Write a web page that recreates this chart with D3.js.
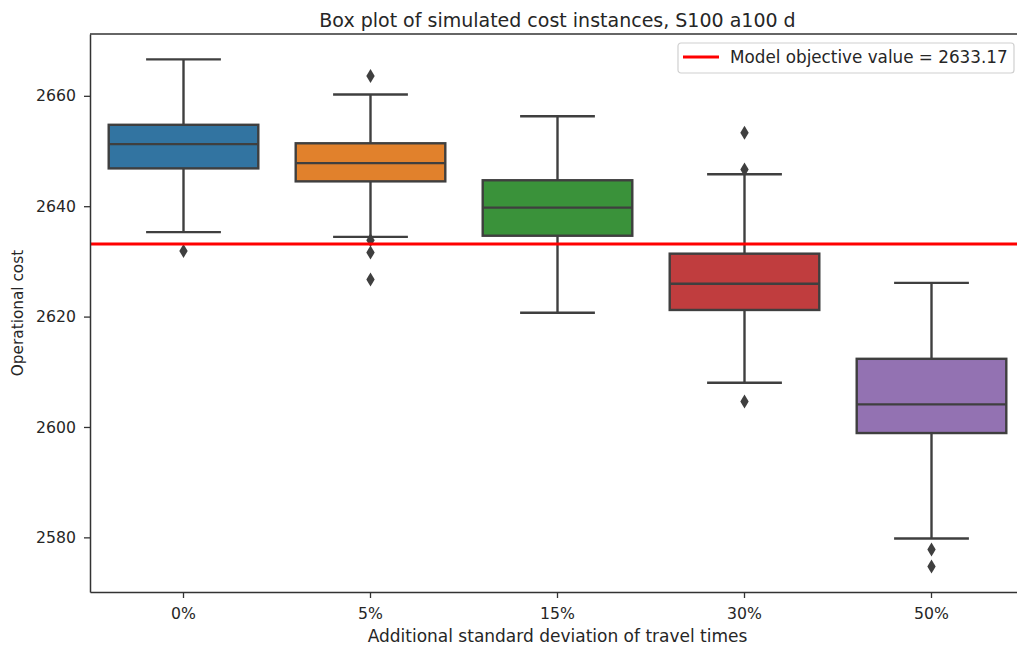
<!DOCTYPE html>
<html>
<head>
<meta charset="utf-8">
<script src="https://cdn.jsdelivr.net/npm/d3@7"></script>
<style>
  html, body { margin: 0; padding: 0; background: #fff; }
  svg { display: block; font-family: "DejaVu Sans", sans-serif; }
</style>
</head>
<body>
<svg id="chart" width="1017" height="646"></svg>
<script>
// Simulated cost distributions per extra travel-time deviation
const categories   = ["0%", "5%", "15%", "30%", "50%"];
const whiskerLow   = [2635.3, 2634.45, 2620.7, 2608.0, 2579.8];
const q1           = [2646.85, 2644.5, 2634.65, 2621.2, 2598.9];
const medians      = [2651.25, 2647.8, 2639.75, 2625.95, 2604.1];
const q3           = [2654.75, 2651.4, 2644.7, 2631.4, 2612.35];
const whiskerHigh  = [2666.6, 2660.25, 2656.3, 2645.8, 2626.1];
const outliers     = [[2631.9], [2663.6, 2633.85, 2631.6, 2626.7], [], [2653.3, 2646.67, 2604.6], [2577.8, 2574.7]];
const boxColors    = ["#3274a1", "#e1812c", "#3a923a", "#c03d3e", "#9372b2"];
const yTicks       = [2580, 2600, 2620, 2640, 2660];
const modelObjective = 2633.17;

const svg = d3.select("#chart");
const margin = { left: 90, right: 1025, top: 34, bottom: 592 };
const edge = "#3f3f3f";
const ink = "#262626";

const x = d3.scaleBand().domain(categories).range([margin.left, margin.right]).paddingInner(0).paddingOuter(0);
const y = d3.scaleLinear().domain([2570.1, 2671.2]).range([margin.bottom, margin.top]);

const boxW = x.bandwidth() * 0.8;
const capW = boxW / 2;

const data = categories.map((c, i) => ({
  c, lo: whiskerLow[i], q1: q1[i], med: medians[i], q3: q3[i], hi: whiskerHigh[i],
  out: outliers[i], color: boxColors[i]
}));

const g = svg.append("g");
const groups = g.selectAll("g.box").data(data).join("g").attr("class", "box");
const cx = d => x(d.c) + x.bandwidth() / 2;

// whiskers
groups.append("line").attr("x1", cx).attr("x2", cx)
  .attr("y1", d => y(d.q3)).attr("y2", d => y(d.hi))
  .attr("stroke", edge).attr("stroke-width", 2.4);
groups.append("line").attr("x1", cx).attr("x2", cx)
  .attr("y1", d => y(d.q1)).attr("y2", d => y(d.lo))
  .attr("stroke", edge).attr("stroke-width", 2.4);
// caps
groups.append("line").attr("x1", d => cx(d) - capW / 2).attr("x2", d => cx(d) + capW / 2)
  .attr("y1", d => y(d.hi)).attr("y2", d => y(d.hi))
  .attr("stroke", edge).attr("stroke-width", 2.4);
groups.append("line").attr("x1", d => cx(d) - capW / 2).attr("x2", d => cx(d) + capW / 2)
  .attr("y1", d => y(d.lo)).attr("y2", d => y(d.lo))
  .attr("stroke", edge).attr("stroke-width", 2.4);
// boxes
groups.append("rect")
  .attr("x", d => cx(d) - boxW / 2).attr("width", boxW)
  .attr("y", d => y(d.q3)).attr("height", d => y(d.q1) - y(d.q3))
  .attr("fill", d => d.color).attr("stroke", edge).attr("stroke-width", 2.4);
// medians
groups.append("line").attr("x1", d => cx(d) - boxW / 2).attr("x2", d => cx(d) + boxW / 2)
  .attr("y1", d => y(d.med)).attr("y2", d => y(d.med))
  .attr("stroke", edge).attr("stroke-width", 2.4);

// model objective line
g.append("line")
  .attr("x1", margin.left).attr("x2", margin.right)
  .attr("y1", y(modelObjective)).attr("y2", y(modelObjective))
  .attr("stroke", "#ff0000").attr("stroke-width", 3);

// outliers as diamonds
const diamond = "M0,-7 L4.2,0 L0,7 L-4.2,0 Z";
groups.each(function (d) {
  d3.select(this).selectAll("path.flier").data(d.out).join("path")
    .attr("class", "flier")
    .attr("d", diamond)
    .attr("transform", v => `translate(${cx(d)},${y(v)})`)
    .attr("fill", edge);
});

// axes
const xAxis = svg.append("g").attr("transform", `translate(0,${margin.bottom})`)
  .call(d3.axisBottom(x).tickSize(6).tickPadding(10).tickSizeOuter(0));
const yAxis = svg.append("g").attr("transform", `translate(${margin.left},0)`)
  .call(d3.axisLeft(y).tickValues(yTicks).tickFormat(d3.format("d")).tickSize(6).tickPadding(8).tickSizeOuter(0));
[xAxis, yAxis].forEach(a => {
  a.selectAll("text").attr("font-size", 15.7).attr("fill", ink).attr("font-family", "DejaVu Sans");
  a.selectAll("line").attr("stroke", "#333").attr("stroke-width", 1.3);
  a.select(".domain").attr("stroke", "#333").attr("stroke-width", 1.5);
});

// top and right spines
svg.append("line").attr("x1", margin.left).attr("x2", margin.right)
  .attr("y1", margin.top).attr("y2", margin.top)
  .attr("stroke", "#333").attr("stroke-width", 1.5);
svg.append("line").attr("x1", margin.right).attr("x2", margin.right)
  .attr("y1", margin.top).attr("y2", margin.bottom)
  .attr("stroke", "#333").attr("stroke-width", 1.5);

// title and axis labels
svg.append("text").attr("x", (margin.left + margin.right) / 2).attr("y", 27)
  .attr("text-anchor", "middle").attr("font-size", 19).attr("fill", ink)
  .text("Box plot of simulated cost instances, S100 a100 d");
svg.append("text").attr("x", (margin.left + margin.right) / 2).attr("y", 642)
  .attr("text-anchor", "middle").attr("font-size", 17).attr("fill", ink)
  .text("Additional standard deviation of travel times");
svg.append("text")
  .attr("transform", `translate(23,${(margin.top + margin.bottom) / 2}) rotate(-90)`)
  .attr("text-anchor", "middle").attr("font-size", 15.3).attr("fill", ink)
  .text("Operational cost");

// legend
const lg = svg.append("g").attr("transform", "translate(678,43)");
lg.append("rect").attr("width", 336).attr("height", 30).attr("rx", 3)
  .attr("fill", "#fff").attr("fill-opacity", 0.8).attr("stroke", "#d0d0d0").attr("stroke-width", 1.2);
lg.append("line").attr("x1", 5).attr("x2", 41).attr("y1", 14).attr("y2", 14)
  .attr("stroke", "#ff0000").attr("stroke-width", 3);
lg.append("text").attr("x", 52).attr("y", 20).attr("font-size", 16.8).attr("fill", ink)
  .text(`Model objective value = ${modelObjective}`);
</script>
</body>
</html>
